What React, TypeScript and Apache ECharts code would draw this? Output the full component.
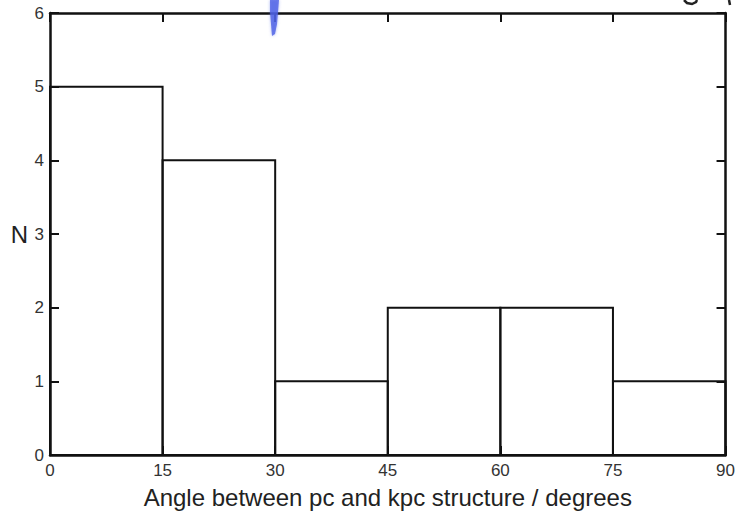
import React, { useEffect, useRef } from "react";
import * as echarts from "echarts";

// Histogram bins (degrees) and counts
const binStarts = [0, 15, 30, 45, 60, 75];
const binWidth = 15;
const counts = [5, 4, 1, 2, 2, 1];
const xTicks = [0, 15, 30, 45, 60, 75, 90];
const yTicks = [0, 1, 2, 3, 4, 5, 6];

const xTitle = "Angle between pc and kpc structure / degrees";
const yTitle = "N";

const INK = "#111";
const FONT = "'Liberation Sans', Arial, sans-serif";

const tick = () => ({ show: true, inside: true, length: 9, lineStyle: { color: INK, width: 2 } });

export default function App() {
  const ref = useRef<HTMLDivElement>(null);

  useEffect(() => {
    if (!ref.current) return;
    const chart = echarts.init(ref.current, null, { renderer: "svg" });

    const data = binStarts.map((s, i) => [s, s + binWidth, counts[i]]);

    chart.setOption({
      animation: false,
      backgroundColor: "#fff",
      grid: { left: 50, right: 8, top: 13, bottom: 54, containLabel: false },
      xAxis: [
        {
          type: "value",
          min: xTicks[0],
          max: xTicks[xTicks.length - 1],
          interval: 15,
          position: "bottom",
          axisLine: { show: true, onZero: false, lineStyle: { color: INK, width: 2.5 } },
          axisTick: tick(),
          splitLine: { show: false },
          axisLabel: { color: "#333", fontFamily: FONT, fontSize: 17, margin: 7 },
          name: xTitle,
          nameLocation: "middle",
          nameGap: 30,
          nameTextStyle: { color: "#222", fontFamily: FONT, fontSize: 24 },
        },
        {
          type: "value",
          min: xTicks[0],
          max: xTicks[xTicks.length - 1],
          interval: 15,
          position: "top",
          axisLine: { show: true, onZero: false, lineStyle: { color: INK, width: 2.5 } },
          axisTick: tick(),
          splitLine: { show: false },
          axisLabel: { show: false },
        },
      ],
      yAxis: [
        {
          type: "value",
          min: yTicks[0],
          max: yTicks[yTicks.length - 1],
          interval: 1,
          position: "left",
          axisLine: { show: true, onZero: false, lineStyle: { color: INK, width: 2.5 } },
          axisTick: tick(),
          splitLine: { show: false },
          axisLabel: { color: "#333", fontFamily: FONT, fontSize: 17, margin: 6 },
          name: yTitle,
          nameLocation: "middle",
          nameRotate: 0,
          nameGap: 22,
          nameTextStyle: { color: "#222", fontFamily: FONT, fontSize: 24, padding: [10, 0, 0, 0] },
        },
        {
          type: "value",
          min: yTicks[0],
          max: yTicks[yTicks.length - 1],
          interval: 1,
          position: "right",
          axisLine: { show: true, onZero: false, lineStyle: { color: INK, width: 2.5 } },
          axisTick: tick(),
          splitLine: { show: false },
          axisLabel: { show: false },
        },
      ],
      series: [
        {
          type: "custom",
          xAxisIndex: 0,
          yAxisIndex: 0,
          data,
          renderItem: (params: any, api: any) => {
            const p0 = api.coord([api.value(0), 0]);
            const p1 = api.coord([api.value(1), api.value(2)]);
            return {
              type: "rect",
              shape: { x: p0[0], y: p1[1], width: p1[0] - p0[0], height: p0[1] - p1[1] },
              style: { fill: "none", stroke: INK, lineWidth: 2 },
            };
          },
        },
      ],
      graphic: [
        // blue pen stroke across the top frame
        {
          type: "polygon",
          z: 100,
          shape: {
            points: [[270, 0], [279, 0], [278, 12], [277, 24], [275, 34], [272, 36], [271, 24], [270, 12]],
          },
          style: { fill: "#4d62e6", opacity: 0.8, shadowBlur: 3, shadowColor: "rgba(77,98,230,0.6)" },
        },
        // ink fragments of handwriting at the top edge
        {
          type: "polyline",
          z: 100,
          shape: { points: [[684, 0], [687, 3], [692, 4], [696, 2], [697, 0]] },
          style: { stroke: "#222", lineWidth: 2.5, fill: "none" },
        },
        {
          type: "line",
          z: 100,
          shape: { x1: 729, y1: 0, x2: 730, y2: 5 },
          style: { stroke: "#222", lineWidth: 2.5 },
        },
      ],
    });

    return () => chart.dispose();
  }, []);

  return <div ref={ref} style={{ width: 738, height: 514, position: "absolute", left: 0, top: 0 }} />;
}
